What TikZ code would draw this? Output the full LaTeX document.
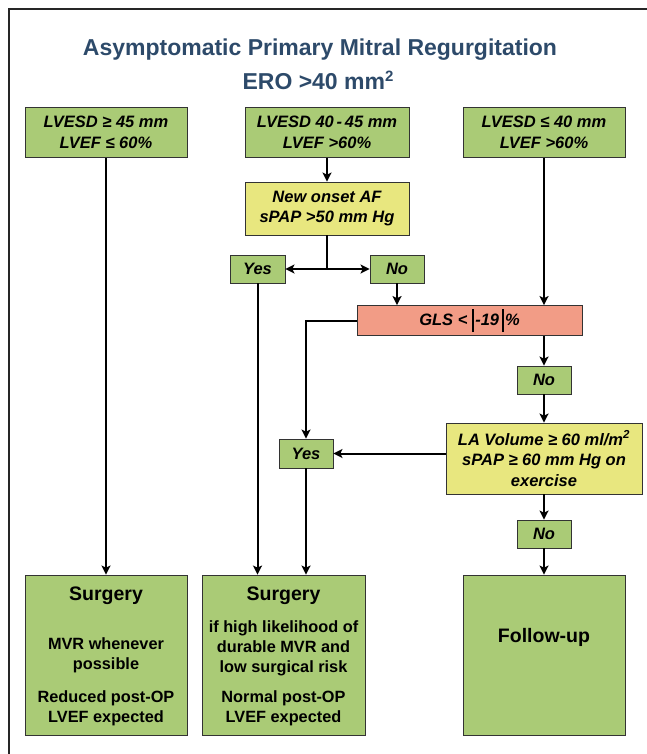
\documentclass[tikz,border=0pt]{standalone}
\usepackage{fontspec}
\setmainfont{Liberation Sans}
\usetikzlibrary{arrows.meta}
\definecolor{boxgreen}{HTML}{AACB76}
\definecolor{boxyellow}{HTML}{E8E77F}
\definecolor{boxred}{HTML}{F29C86}
\definecolor{titleblue}{HTML}{2D4A6A}
\newcommand{\vbar}{\rule[-6.5pt]{1.4pt}{23pt}}
\begin{document}
\begin{tikzpicture}[x=1pt,y=-1pt,
  box/.style={draw=black!80,line width=0.8pt,inner sep=0pt,align=center,
    font=\fontsize{16.5}{20.5}\selectfont\bfseries\itshape},
  gbox/.style={box,fill=boxgreen},
  ybox/.style={box,fill=boxyellow},
  rbox/.style={box,fill=boxred},
  titletext/.style={font=\fontsize{23}{27}\selectfont\bfseries,text=titleblue,inner sep=0pt},
  bigtext/.style={font=\fontsize{19.5}{23}\selectfont\bfseries,inner sep=0pt,align=center},
  smalltext/.style={font=\fontsize{16.3}{20}\selectfont\bfseries,inner sep=0pt,align=center},
  arr/.style={line width=2pt,-{Stealth[length=9pt,width=9pt,inset=2pt]}},
  ln/.style={line width=2pt}
]
\useasboundingbox (0,0) rectangle (647,754);
\draw[line width=1.6pt,black!85] (9,754) -- (9,9) -- (647,9);

\node[titletext] (t1) at (320,50) {Asymptomatic Primary Mitral Regurgitation};
\node[titletext] (t2) at (318,80) {ERO >40 mm\raisebox{8pt}{\fontsize{15}{15}\selectfont 2}};

\node[gbox,minimum width=162pt,minimum height=50pt] (a1) at (106,132.5) {LVESD ≥ 45 mm\\LVEF ≤ 60\%};
\node[gbox,minimum width=164pt,minimum height=50pt] (a2) at (327,132.5) {LVESD 40\,-\,45 mm\\LVEF >60\%};
\node[gbox,minimum width=162pt,minimum height=50pt] (a3) at (544,132.5) {LVESD ≤ 40 mm\\LVEF >60\%};

\node[ybox,minimum width=164pt,minimum height=53pt] (y1) at (327,208.5) {New onset AF\\sPAP >50 mm Hg};

\node[gbox,minimum width=55pt,minimum height=28pt] (yes1) at (257.5,269) {Yes};
\node[gbox,minimum width=54pt,minimum height=28pt] (no1) at (397,269) {No};
\coordinate (br) at (327,269);

\node[rbox,minimum width=225pt,minimum height=30pt] (gls) at (469.5,320.5) {GLS <\kern5pt\vbar\kern1.5pt-19\kern3pt\vbar\kern1.5pt\%};

\node[gbox,minimum width=54pt,minimum height=28pt] (no2) at (544,380) {No};
\node[ybox,minimum width=196pt,minimum height=71pt] (la) at (544,458.5) {LA Volume ≥ 60 ml/m\textsuperscript{2}\\sPAP ≥ 60 mm Hg on\\exercise};
\node[gbox,minimum width=54pt,minimum height=29pt] (yes2) at (306,453.5) {Yes};
\node[gbox,minimum width=54pt,minimum height=28pt] (no3) at (544,534) {No};

\node[gbox,minimum width=162pt,minimum height=160pt] (s1) at (106,655) {};
\node[gbox,minimum width=163pt,minimum height=160pt] (s2) at (283.5,655) {};
\node[gbox,minimum width=162pt,minimum height=160pt] (f) at (544,655) {};

\node[bigtext] (s1a) at (106,596) {Surgery};
\node[smalltext] (s1b) at (106,655) {MVR whenever\\possible};
\node[smalltext] (s1c) at (106,708) {Reduced post-OP\\LVEF expected};

\node[bigtext] (s2a) at (283.5,596) {Surgery};
\node[smalltext] (s2b) at (283.5,648) {if high likelihood of\\durable MVR and\\low surgical risk};
\node[smalltext] (s2c) at (283.5,708) {Normal post-OP\\LVEF expected};

\node[bigtext] (fa) at (544,637) {Follow-up};

\draw[arr] (a1.south) -- (s1.north);
\draw[arr] (a2.south) -- (y1.north);
\draw[ln] (y1.south) -- (br);
\draw[arr] (br) -- (yes1.east);
\draw[arr] (br) -- (no1.west);
\draw[arr] (no1.south) -- (no1.south |- gls.north);
\draw[arr] (a3.south) -- (a3.south |- gls.north);
\draw[arr] (gls.west) -| (yes2.north);
\draw[arr] (no2.north |- gls.south) -- (no2.north);
\draw[arr] (no2.south) -- (la.north);
\draw[arr] (yes2.east -| la.west) -- (yes2.east);
\draw[arr] (la.south) -- (no3.north);
\draw[arr] (no3.south) -- (f.north);
\draw[arr] (yes1.south) -- (yes1.south |- s2.north);
\draw[arr] (yes2.south) -- (yes2.south |- s2.north);
\end{tikzpicture}
\end{document}
